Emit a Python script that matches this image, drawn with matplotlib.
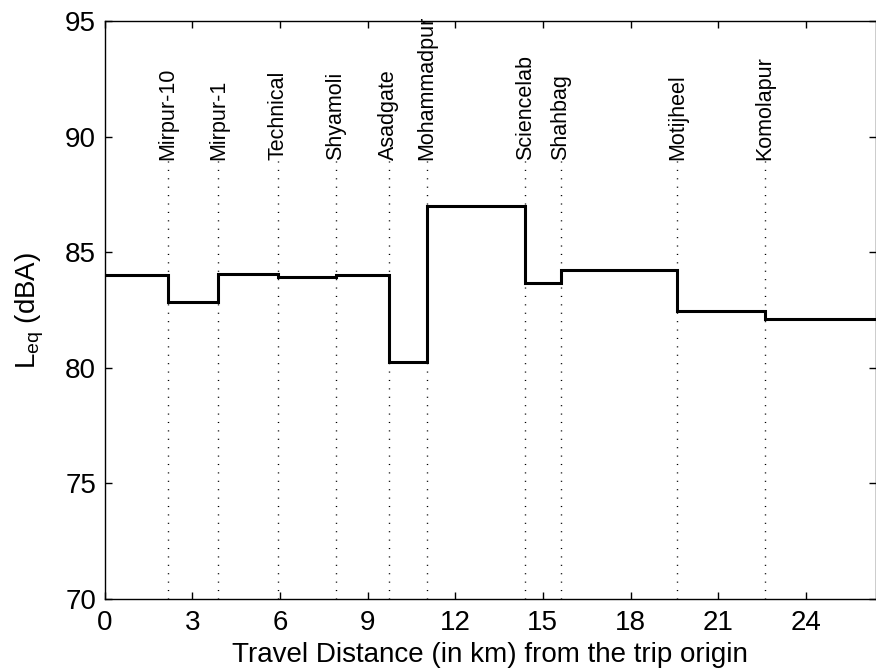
import matplotlib
matplotlib.use('Agg')
import matplotlib.pyplot as plt

# bus stops along the route and the distance (km) at which each is reached
stations = ['Mirpur-10', 'Mirpur-1', 'Technical', 'Shyamoli', 'Asadgate',
            'Mohammadpur', 'Sciencelab', 'Shahbag', 'Motijheel', 'Komolapur']
station_km = [2.18, 3.90, 5.94, 7.91, 9.73, 11.02, 14.40, 15.61, 19.60, 22.60]
trip_end_km = 26.4

# equivalent noise level for every stretch between stops
leq = [84.0, 82.85, 84.07, 83.94, 84.02, 80.25, 87.0, 83.66, 84.22, 82.45, 82.1]

xticks = [0, 3, 6, 9, 12, 15, 18, 21, 24]
yticks = [70, 75, 80, 85, 90, 95]

plt.rcParams['font.family'] = ['Liberation Sans', 'DejaVu Sans']

fig = plt.figure(figsize=(8.76, 6.72), dpi=100)
ax = fig.add_axes([0.1193, 0.1086, 1.0 - 0.1193, 0.8601])

edges = [0] + station_km + [trip_end_km]
ax.stairs(leq, edges, color='black', linewidth=2.2, baseline=None)

for name, km in zip(stations, station_km):
    ax.plot([km, km], [70, 89], color='black', linestyle=(0, (0.8, 5.25)), linewidth=1.0)
    ax.text(km, 89, name, rotation=90, ha='center', va='bottom',
            fontsize=15.5, clip_on=False)

ax.set_xlim(0, trip_end_km)
ax.set_ylim(70, 95)
ax.set_xticks(xticks)
ax.set_yticks(yticks)
ax.tick_params(direction='in', length=5, width=1, top=True, right=True, labelsize=20)
ax.tick_params(axis='x', pad=8)
ax.tick_params(axis='y', pad=6)
for s in ax.spines.values():
    s.set_linewidth(1.0)

ax.set_xlabel('Travel Distance (in km) from the trip origin', fontsize=20)
ax.set_ylabel(r'$\mathregular{L_{eq}}$ (dBA)', fontsize=20)
ax.xaxis.set_label_coords(0.5, -0.074)
ax.yaxis.set_label_coords(-0.076, 0.5)

fig.savefig('out.png', dpi=100)
